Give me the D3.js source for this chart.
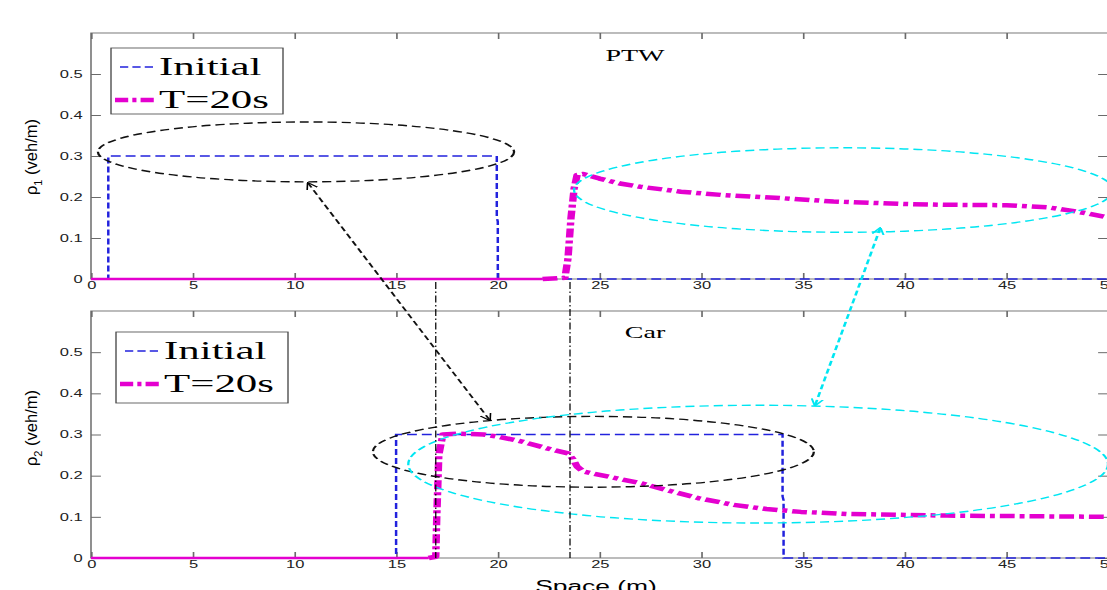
<!DOCTYPE html>
<html>
<head>
<meta charset="utf-8">
<script src="https://cdn.jsdelivr.net/npm/d3@7"></script>
<style>
  html, body { margin: 0; padding: 0; background: #fff; overflow: hidden; }
</style>
</head>
<body>
<div id="chart"></div>
<script>
// ticks and labels
const xTicks = [0, 5, 10, 15, 20, 25, 30, 35, 40, 45, 50];
const yTicks = [0, 0.1, 0.2, 0.3, 0.4, 0.5];
const seriesNames = ["Initial", "T=20s"];
const panelTitles = ["PTW", "Car"];
const ySubscripts = ["1", "2"];

// PTW density (top)
const ptwInitialX = [0, 0.85, 0.85, 19.95, 19.95, 20.0, 20.0, 50];
const ptwInitialY = [0, 0, 0.3, 0.3, 0.15, 0.14, 0, 0];
const ptwT20X = [0, 22.2, 23.3, 23.45, 23.6, 23.75, 23.9, 24.2, 25, 26, 27, 29, 31, 34, 36.5, 40, 42, 45, 47, 48, 49, 50];
const ptwT20Y = [0, 0, 0.003, 0.05, 0.15, 0.22, 0.254, 0.256, 0.245, 0.233, 0.225, 0.213, 0.205, 0.197, 0.189, 0.183, 0.181, 0.18, 0.175, 0.168, 0.16, 0.15];

// Car density (bottom)
const carInitialX = [0, 15, 15, 34, 34, 34.05, 34.05, 50];
const carInitialY = [0, 0, 0.3, 0.3, 0.15, 0.14, 0, 0];
const carT20X = [0, 16.6, 16.95, 17.0, 17.1, 17.3, 18, 19.3, 20.1, 21.25, 22.6, 23.45, 23.7, 23.9, 24.2, 25.5, 27.1, 28.3, 29.9, 31.6, 33.2, 34.9, 37.2, 42.1, 50];
const carT20Y = [0, 0, 0.003, 0.1, 0.25, 0.3, 0.302, 0.3, 0.294, 0.282, 0.264, 0.254, 0.24, 0.222, 0.21, 0.197, 0.181, 0.165, 0.145, 0.129, 0.119, 0.112, 0.107, 0.103, 0.1];

// annotations: vertical guides, ellipses [cx, cy, rx, ry], arrows [top point, bottom point]
const guideX = [16.95, 23.55];
const ptwEllipses = [[10.57, 0.31, 10.23, 0.073, "black"], [37.0, 0.217, 13.25, 0.103, "cyan"]];
const carEllipses = [[24.7, 0.258, 10.84, 0.086, "black"], [32.8, 0.228, 17.2, 0.143, "cyan"]];
const arrowBlack = [[10.67, 0.234], [19.6, 0.335]];
const arrowCyan = [[38.8, 0.124], [35.6, 0.371]];

const W = 1107, H = 590;
const SX = 1.65; // the figure is stretched horizontally
const BLUE = "#2222dd", MAGENTA = "#e400cf", CYAN = "#00e6f2", AXIS = "#6a6a6a";

const svg = d3.select("#chart").append("svg")
  .attr("width", W).attr("height", H)
  .style("display", "block");

const defs = svg.append("defs");
function addHead(id, color, w) {
  defs.append("marker")
    .attr("id", id).attr("viewBox", "0 0 10 10")
    .attr("refX", 9).attr("refY", 5)
    .attr("markerWidth", 7).attr("markerHeight", 8)
    .attr("markerUnits", "userSpaceOnUse")
    .attr("orient", "auto-start-reverse")
    .append("path").attr("d", "M0,0 L10,5 L0,10")
    .attr("fill", "none").attr("stroke", color)
    .attr("stroke-width", w).attr("stroke-dasharray", "none");
}
addHead("head-black", "#000", 1.4);
addHead("head-cyan", CYAN, 1.8);

const root = svg.append("g").attr("transform", `scale(${SX},1)`);

const x = d3.scaleLinear().domain([0, 50]).range([91 / SX, 1108 / SX]);
const yTop = d3.scaleLinear().domain([0, 0.6]).range([279, 33]);
const yBot = d3.scaleLinear().domain([0, 0.6]).range([558, 311]);

function drawPanel(y, initX, initY, t20X, t20Y, ellipses, opts) {
  const g = root.append("g");

  // box
  g.append("rect")
    .attr("x", x(0)).attr("y", y(0.6))
    .attr("width", x(50) - x(0)).attr("height", y(0) - y(0.6))
    .attr("fill", "none").attr("stroke", AXIS).attr("stroke-width", 0.9);

  const fmtY = d => d === 0 ? "0" : d.toFixed(1);
  const styleAxis = a => {
    a.attr("color", AXIS).attr("font-family", "'Liberation Sans', Arial, sans-serif").attr("font-size", 10);
    a.select(".domain").remove();
    a.selectAll("text").attr("fill", "#222");
  };
  g.append("g").attr("transform", `translate(0,${y(0)})`)
    .call(d3.axisBottom(x).tickValues(xTicks).tickSize(-6).tickPadding(3).tickFormat(d3.format("d")))
    .call(styleAxis);
  g.append("g").attr("transform", `translate(0,${y(0.6)})`)
    .call(d3.axisTop(x).tickValues(xTicks).tickSize(-6).tickFormat(""))
    .call(styleAxis);
  g.append("g").attr("transform", `translate(${x(0)},0)`)
    .call(d3.axisLeft(y).tickValues(yTicks).tickSize(-6).tickPadding(5).tickFormat(fmtY))
    .call(styleAxis);
  g.append("g").attr("transform", `translate(${x(50)},0)`)
    .call(d3.axisRight(y).tickValues(yTicks).tickSize(-6).tickFormat(""))
    .call(styleAxis);

  // title
  g.append("text")
    .attr("x", opts.titleX / SX).attr("y", opts.titleY)
    .attr("text-anchor", "middle")
    .attr("font-family", "'Liberation Serif', 'Times New Roman', serif")
    .attr("font-size", 17)
    .text(opts.title);

  const line = d3.line().x(d => x(d[0])).y(d => y(d[1]));

  // initial
  g.append("path").datum(d3.zip(initX, initY))
    .attr("d", line).attr("fill", "none")
    .attr("stroke", BLUE).attr("stroke-width", 1.5)
    .attr("stroke-dasharray", "6,3");

  // T=20s: flat zero part looks solid, rest dash-dot
  const t20 = d3.zip(t20X, t20Y);
  const k = t20.findIndex(d => d[1] > 0) - 1;
  g.append("path").datum(t20.slice(0, k + 1))
    .attr("d", line).attr("fill", "none")
    .attr("stroke", MAGENTA).attr("stroke-width", 2.5);
  g.append("path").datum(t20.slice(k))
    .attr("d", line).attr("fill", "none")
    .attr("stroke", MAGENTA).attr("stroke-width", 4.5)
    .attr("stroke-linejoin", "round")
    .attr("stroke-dasharray", "9,3,3,3");

  // ellipses
  g.selectAll("ellipse.note").data(ellipses).join("ellipse")
    .attr("class", "note")
    .attr("cx", d => x(d[0])).attr("cy", d => y(d[1]))
    .attr("rx", d => x(d[2]) - x(0)).attr("ry", d => y(0) - y(d[3]))
    .attr("fill", "none")
    .attr("stroke", d => d[4] === "cyan" ? CYAN : "#111")
    .attr("stroke-width", 1.4)
    .attr("stroke-dasharray", "5.5,3");

  // legend
  const lg = g.append("g");
  lg.append("rect")
    .attr("x", opts.legX / SX).attr("y", opts.legY)
    .attr("width", 172 / SX).attr("height", opts.legH)
    .attr("fill", "#fff").attr("stroke", "#444").attr("stroke-width", 0.8);
  const rows = [
    { name: seriesNames[0], color: BLUE, w: 1.5, dash: "5,2.5", y: opts.legY + 19, x0: 9, x1: 46 },
    { name: seriesNames[1], color: MAGENTA, w: 4.5, dash: "8,2.5,2.5,2.5", y: opts.legY + 52, x0: 4, x1: 46 }
  ];
  rows.forEach(r => {
    lg.append("line")
      .attr("x1", (opts.legX + r.x0) / SX).attr("x2", (opts.legX + r.x1) / SX)
      .attr("y1", r.y).attr("y2", r.y)
      .attr("stroke", r.color).attr("stroke-width", r.w)
      .attr("stroke-dasharray", r.dash);
    lg.append("text")
      .attr("x", (opts.legX + 48) / SX).attr("y", r.y + 8)
      .attr("font-family", "'Liberation Serif', 'Times New Roman', serif")
      .attr("font-size", 26)
      .text(r.name);
  });
  return g;
}

drawPanel(yTop, ptwInitialX, ptwInitialY, ptwT20X, ptwT20Y, ptwEllipses,
  { title: panelTitles[0], titleX: 635, titleY: 61, legX: 111, legY: 48, legH: 66 });
drawPanel(yBot, carInitialX, carInitialY, carT20X, carT20Y, carEllipses,
  { title: panelTitles[1], titleX: 645, titleY: 338, legX: 116, legY: 332, legH: 71 });

// vertical guides across both panels
root.selectAll("line.guide").data(guideX).join("line")
  .attr("class", "guide")
  .attr("x1", d => x(d)).attr("x2", d => x(d))
  .attr("y1", yTop(0) + 3).attr("y2", yBot(0))
  .attr("stroke", "#000").attr("stroke-width", 0.75)
  .attr("stroke-dasharray", "7,2.5,1.5,2.5");

// arrows between panels
function drawArrow(pts, color, head, w) {
  root.append("line")
    .attr("x1", x(pts[0][0])).attr("y1", yTop(pts[0][1]))
    .attr("x2", x(pts[1][0])).attr("y2", yBot(pts[1][1]))
    .attr("stroke", color).attr("stroke-width", w)
    .attr("stroke-dasharray", "5,3")
    .attr("marker-start", `url(#${head})`)
    .attr("marker-end", `url(#${head})`);
}
drawArrow(arrowBlack, "#111", "head-black", 1.3);
drawArrow(arrowCyan, CYAN, "head-cyan", 1.6);

// axis labels (bottom one is clipped by the frame, as in the original)
root.append("text")
  .attr("x", 596 / SX).attr("y", 592)
  .attr("text-anchor", "middle")
  .attr("font-family", "'Liberation Sans', Arial, sans-serif")
  .attr("font-size", 16)
  .text("Space (m)");

[[157, ySubscripts[0]], [428, ySubscripts[1]]].forEach(([cy, sub]) => {
  const t = svg.append("text")
    .attr("transform", `translate(37,${cy}) rotate(-90)`)
    .attr("text-anchor", "middle")
    .attr("font-family", "'Liberation Sans', Arial, sans-serif")
    .attr("font-size", 16.5);
  t.append("tspan").text("ρ");
  t.append("tspan").attr("dy", 5).attr("font-size", 11).text(sub);
  t.append("tspan").attr("dy", -5).text(" (veh/m)");
});
</script>
</body>
</html>
